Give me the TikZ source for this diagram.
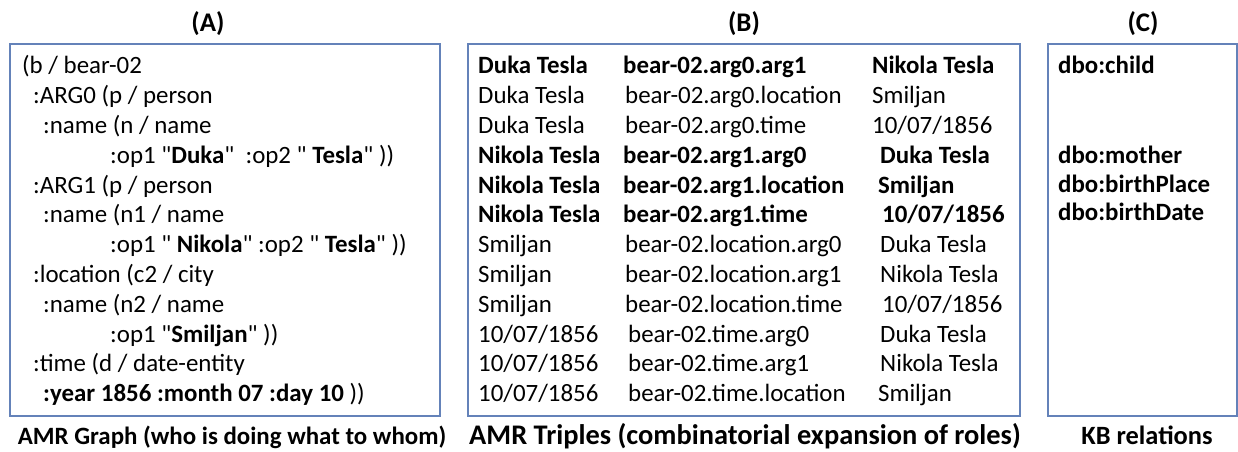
\documentclass[tikz,border=0pt]{standalone}
\usepackage{fontspec}
\setmainfont{Carlito}
\usetikzlibrary{positioning}
\definecolor{panelblue}{RGB}{100,130,185}
\newcommand{\dq}{\textquotedbl}
\tikzset{
  panel/.style={draw=panelblue, line width=1.3bp, inner sep=0pt, outer sep=0pt, anchor=north west},
  txt/.style={anchor=base west, inner sep=0pt, font=\fontsize{25}{29}\selectfont},
  head/.style={anchor=base, inner sep=0pt, font=\fontsize{26}{30}\selectfont\bfseries},
}

\begin{document}
\begin{tikzpicture}[x=1bp,y=-1bp]
        \useasboundingbox (0,0) rectangle (1238,452);
        % panels
        \node (panelA) [panel, minimum width=430bp, minimum height=372bp] at (10,44) {};
        \node (panelB) [panel, minimum width=552bp, minimum height=372bp] at (468,44) {};
        \node (panelC) [panel, minimum width=189bp, minimum height=372bp] at (1048,44) {};
        % titles and captions
        \foreach \n/\x/\t in {A/208/(A), B/744/(B), C/1143/(C)}
            \node (title\n) [head, font=\fontsize{27}{30}\selectfont\bfseries] at (\x,32) {\t};
        \node (capA) [head, font=\fontsize{25}{30}\selectfont\bfseries] at (232,445) {AMR Graph (who is doing what to whom)};
        \node (capB) [head, font=\fontsize{28.5}{30}\selectfont\bfseries] at (745,445) {AMR Triples (combinatorial expansion of roles)};
        \node (capC) [head, font=\fontsize{26.5}{30}\selectfont\bfseries] at (1147,445) {KB relations};
        % AMR graph
        \foreach \x/\t [count=\i from 0] in {22/{(b / bear-02},
                    33/{:ARG0 (p / person},
                    43/{:name (n / name},
                    110/{:op1 \dq\textbf{Duka}\dq\ \ :op2 \dq\ \textbf{Tesla}\dq\ ))},
                    33/{:ARG1 (p / person},
                    43/{:name (n1 / name},
                    110/{:op1 \dq\ \textbf{Nikola}\dq\ :op2 \dq\ \textbf{Tesla}\dq\ ))},
                    33/{:location (c2 / city},
                    43/{:name (n2 / name},
                    110/{:op1 \dq\textbf{Smiljan}\dq\ ))},
                    33/{:time (d / date-entity},
                    43/{\textbf{:year 1856 :month 07 :day 10} ))}}
            \node (amr\i) [txt] at (\x,74+29.8*\i) {\t};
        % AMR triples
        \foreach \f/\s/\r/\rx/\o/\ox [count=\i from 0] in {
                    \bfseries/Duka Tesla/bear-02.arg0.arg1/623/Nikola Tesla/872,
                    \mdseries/Duka Tesla/bear-02.arg0.location/625/Smiljan/872,
                    \mdseries/Duka Tesla/bear-02.arg0.time/625/{10/07/1856}/872,
                    \bfseries/Nikola Tesla/bear-02.arg1.arg0/623/Duka Tesla/880,
                    \bfseries/Nikola Tesla/bear-02.arg1.location/623/Smiljan/878,
                    \bfseries/Nikola Tesla/bear-02.arg1.time/623/{10/07/1856}/882,
                    \mdseries/Smiljan/bear-02.location.arg0/625/Duka Tesla/880,
                    \mdseries/Smiljan/bear-02.location.arg1/625/Nikola Tesla/880,
                    \mdseries/Smiljan/bear-02.location.time/625/{10/07/1856}/882,
                    \mdseries/{10/07/1856}/bear-02.time.arg0/628/Duka Tesla/880,
                    \mdseries/{10/07/1856}/bear-02.time.arg1/628/Nikola Tesla/880,
                    \mdseries/{10/07/1856}/bear-02.time.location/628/Smiljan/878}
        {
            \node (subj\i) [txt] at (478,74+29.8*\i) {\f\s};
            \node (role\i) [txt] at (\rx,74+29.8*\i) {\f\r};
            \node (obj\i) [txt] at (\ox,74+29.8*\i) {\f\o};
        }
        % KB relations
        \foreach \t/\y [count=\i] in {dbo:child/74, dbo:mother/164, dbo:birthPlace/193, dbo:birthDate/221}
            \node (kb\i) [txt, font=\fontsize{25}{29}\selectfont\bfseries] at (1058,\y) {\t};
\end{tikzpicture}
\end{document}
